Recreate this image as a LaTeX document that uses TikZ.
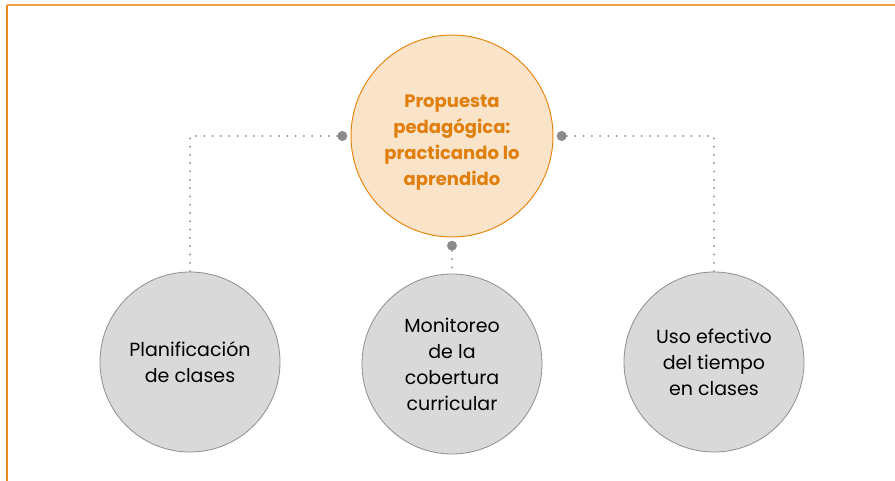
\documentclass[tikz,border=0pt]{standalone}
\usepackage{fontspec}
\setmainfont{Poppins}
\usetikzlibrary{positioning, calc}
\definecolor{frameor}{HTML}{F0A04B}
\definecolor{frameleft}{HTML}{EE8A1C}
\definecolor{propfill}{HTML}{FAE4C9}
\definecolor{propline}{HTML}{E8870F}
\definecolor{proptext}{HTML}{E07E0E}
\definecolor{topicfill}{HTML}{D9D9D9}
\definecolor{topicline}{HTML}{8E8E8E}
\definecolor{dotgray}{HTML}{8A8A8A}
\tikzset{topic/.style={circle, draw=topicline, line width=0.8pt, fill=topicfill,
  minimum size=180pt, inner sep=0pt, align=center, font=\fontsize{19}{26}\selectfont}}
\tikzset{prop/.style={circle, draw=propline, line width=1pt, fill=propfill,
  minimum size=202pt, inner sep=0pt, align=center, text=proptext,
  font=\fontsize{18}{26}\selectfont\bfseries}}
\tikzset{knob/.style={circle, fill=dotgray, minimum size=10pt, inner sep=0pt}}
\tikzset{dotline/.style={dotgray, line width=2pt, line cap=round,
  dash pattern=on 0pt off 8.3pt}}

\begin{document}
\begin{tikzpicture}[x=1pt, y=-1pt]
\useasboundingbox (0,0) rectangle (895,481);

% frame
\draw [frameleft, line width=1.5pt] (7,481) -- (7,5);
\draw [frameor, line width=1.5pt] (7,5) -- (895,5);

\node [prop] (prop) at (452,136) {\rule{0pt}{25pt}Propuesta\\pedagógica:\\practicando lo\\aprendido};

\node [topic] (plan) at (190,362) {Planificación\\de clases};
\node [topic] (moni) at (452,364) {\rule{0pt}{16pt}Monitoreo\\de la\\cobertura\\curricular};
\node [topic] (uso) at (714,362) {Uso efectivo\\del tiempo\\en clases};

\node [knob, left=3pt of prop.west] (kl) {};
\node [knob, right=3pt of prop.east] (kr) {};
\node [knob, below=3pt of prop.south] (kb) {};

\draw [dotline] (kl) -| (plan.north);
\draw [dotline] (kr) -| (uso.north);
\draw [dotline] (kb) -- (moni.north);

\end{tikzpicture}
\end{document}
